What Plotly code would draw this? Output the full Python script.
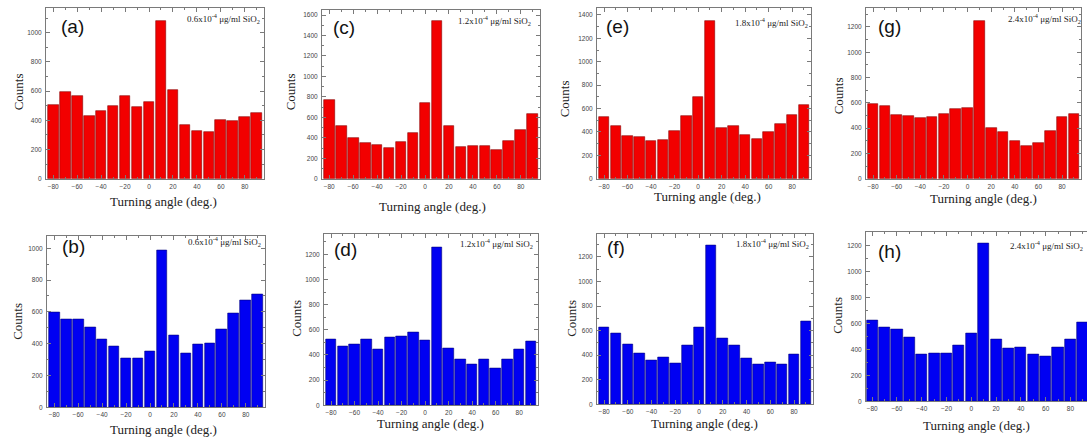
import plotly.graph_objects as go

W, H = 1087, 443

angles = [-80, -70, -60, -50, -40, -30, -20, -10, 0, 10, 20, 30, 40, 50, 60, 70, 80, 90]
x_ticks = [-80, -60, -40, -20, 0, 20, 40, 60, 80]

counts_a = [505, 593, 568, 430, 468, 502, 568, 495, 523, 1083, 611, 368, 325, 318, 400, 395, 423, 450]
counts_c = [766, 517, 398, 352, 333, 304, 365, 449, 743, 1540, 520, 313, 323, 323, 284, 372, 482, 637]
counts_e = [530, 453, 368, 354, 326, 334, 411, 533, 703, 1352, 436, 451, 377, 340, 400, 468, 547, 635]
counts_g = [592, 576, 503, 498, 482, 485, 516, 553, 563, 1250, 398, 372, 296, 259, 280, 380, 487, 516]
counts_b = [597, 555, 551, 501, 424, 380, 310, 310, 353, 990, 451, 337, 395, 399, 489, 590, 672, 711]
counts_d = [524, 468, 484, 524, 442, 537, 545, 582, 518, 1255, 453, 363, 326, 368, 297, 368, 447, 508]
counts_f = [624, 578, 489, 411, 359, 378, 335, 481, 624, 1295, 535, 481, 373, 322, 338, 324, 403, 673]
counts_h = [624, 568, 555, 494, 363, 366, 371, 430, 527, 1215, 479, 407, 415, 358, 343, 415, 476, 606]

panel_letters = ["(a)", "(c)", "(e)", "(g)", "(b)", "(d)", "(f)", "(h)"]
concentrations = ["0.6", "1.2", "1.8", "2.4", "0.6", "1.2", "1.8", "2.4"]
y_tops = [1170, 1650, 1460, 1350, 1075, 1360, 1384, 1302]
x_title = "Turning angle (deg.)"
y_title = "Counts"

RED, RED_EDGE = "#f20000", "#8a0000"
BLUE, BLUE_EDGE = "#0000f2", "#00007a"

# pixel geometry of each panel: left, right, top, bottom
boxes = [
    (46, 264, 8, 180), (322, 540, 10, 180), (597, 811, 8, 180), (866, 1081, 8, 180),
    (47, 265, 238, 410), (324, 538, 236, 408), (597, 813, 236, 407), (866, 1087, 234, 404),
]
xranges = [[-86, 96]] * 7 + [[-85, 93.4]]
counts_titles = [(18, 93), (290, 93), (564, 100), (838, 97), (18, 324), (297, 321), (572, 321), (838, 318)]
angle_titles = [(163, 203), (432, 208), (707, 198), (983, 200), (163, 432), (430, 426), (704, 426), (976, 428)]
letter_pos = [(72, 27), (344, 28), (617, 27), (889, 27), (73, 248), (345, 251), (616, 249), (889, 253)]
conc_pos = [(262, 19), (533, 21), (810, 23), (1083, 19), (263, 243), (535, 245), (811, 245), (1085, 247)]

series = [counts_a, counts_c, counts_e, counts_g, counts_b, counts_d, counts_f, counts_h]

fig = go.Figure()
annotations = []
FRAME = "#7a7a7a"
TICKFONT = dict(family="Liberation Sans", size=6.5, color="#444")
SERIF = "Liberation Serif"

for i, vals in enumerate(series):
    n = i + 1
    xa = "x" if n == 1 else f"x{n}"
    ya = "y" if n == 1 else f"y{n}"
    red = i < 4
    fig.add_trace(go.Bar(
        x=angles, y=vals, width=9, xaxis=xa, yaxis=ya,
        marker=dict(color=RED if red else BLUE,
                    line=dict(color=RED_EDGE if red else BLUE_EDGE, width=0.6)),
        showlegend=False, hoverinfo="x+y",
    ))
    l, r, t, b = boxes[i]
    xkey = "xaxis" if n == 1 else f"xaxis{n}"
    ykey = "yaxis" if n == 1 else f"yaxis{n}"
    fig.layout[xkey] = dict(
        domain=[l / W, r / W], anchor=ya, range=xranges[i],
        tickmode="array", tickvals=x_ticks, ticks="inside", ticklen=4, tickcolor=FRAME,
        showline=True, linecolor=FRAME, linewidth=1, mirror="ticks",
        showgrid=False, zeroline=False, tickfont=TICKFONT, ticklabelstandoff=1,
        minor=dict(dtick=10, tick0=0, ticks="inside", ticklen=2, tickcolor=FRAME),
    )
    fig.layout[ykey] = dict(
        domain=[1 - b / H, 1 - t / H], anchor=xa, range=[0, y_tops[i]],
        dtick=200, tick0=0, ticks="inside", ticklen=4, tickcolor=FRAME,
        showline=True, linecolor=FRAME, linewidth=1, mirror=("ticks" if i != 7 else False),
        showgrid=False, zeroline=False, tickfont=TICKFONT, ticklabelstandoff=2,
        minor=dict(dtick=100, ticks="inside", ticklen=2, tickcolor=FRAME),
    )
    cx, cy = counts_titles[i]
    annotations.append(dict(x=cx / W, y=1 - cy / H, xref="paper", yref="paper",
                            text=y_title, textangle=-90, showarrow=False,
                            font=dict(family=SERIF, size=13, color="#222"),
                            xanchor="center", yanchor="middle"))
    ax, ay = angle_titles[i]
    annotations.append(dict(x=ax / W, y=1 - ay / H, xref="paper", yref="paper",
                            text=x_title, showarrow=False,
                            font=dict(family=SERIF, size=13, color="#222"),
                            xanchor="center", yanchor="middle"))
    px_, py_ = letter_pos[i]
    annotations.append(dict(x=px_ / W, y=1 - py_ / H, xref="paper", yref="paper",
                            text=panel_letters[i], showarrow=False,
                            font=dict(family="Liberation Sans", size=19, color="#111"),
                            xanchor="center", yanchor="middle"))
    qx, qy = conc_pos[i]
    annotations.append(dict(x=qx / W, y=1 - qy / H, xref="paper", yref="paper",
                            text=f"{concentrations[i]}x10<sup>-4</sup> μg/ml SiO<sub>2</sub>",
                            showarrow=False,
                            font=dict(family=SERIF, size=9, color="#222"),
                            xanchor="right", yanchor="middle"))

fig.update_layout(
    width=W, height=H, margin=dict(l=0, r=0, t=0, b=0),
    paper_bgcolor="white", plot_bgcolor="white",
    annotations=annotations, bargap=0,
)

fig.write_html("out.html", config={"displayModeBar": False},
               post_script="document.body.style.margin='0';document.body.style.overflow='hidden';")
